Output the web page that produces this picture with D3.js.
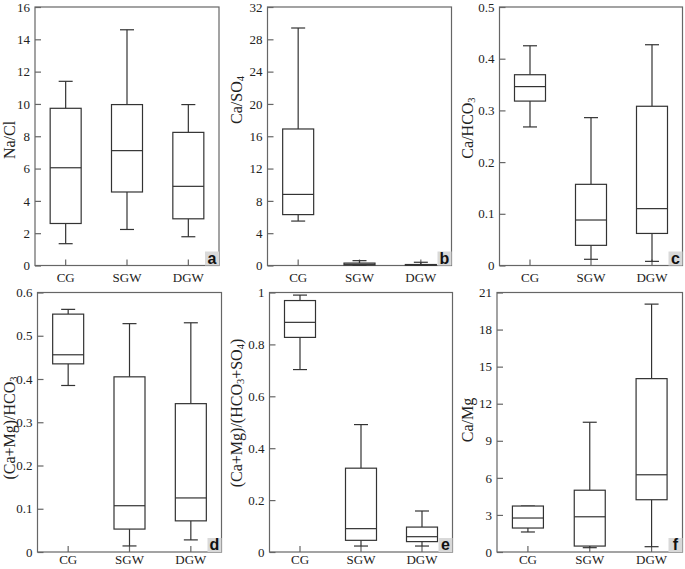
<!DOCTYPE html>
<html><head><meta charset="utf-8">
<script src="https://cdn.jsdelivr.net/npm/d3@7/dist/d3.min.js"></script>
<style>body{margin:0;background:#fff}</style>
</head><body><svg id="c" width="685" height="569"></svg>
<script>
const categories = ["CG", "SGW", "DGW"];
// five-number summaries per category: [min, q1, median, q3, max]
const naCl        = [[1.35, 2.6, 6.05, 9.73, 11.4], [2.23, 4.55, 7.11, 9.96, 14.59], [1.78, 2.89, 4.9, 8.24, 9.96]];
const caSO4       = [[5.5, 6.3, 8.8, 16.9, 29.4], [0.03, 0.06, 0.15, 0.3, 0.6], [0.01, 0.03, 0.06, 0.12, 0.4]];
const caHCO3      = [[0.268, 0.318, 0.346, 0.369, 0.425], [0.012, 0.039, 0.088, 0.157, 0.286], [0.008, 0.062, 0.110, 0.308, 0.427]];
const caMgHCO3    = [[0.385, 0.435, 0.456, 0.550, 0.561], [0.014, 0.053, 0.107, 0.405, 0.528], [0.028, 0.072, 0.125, 0.343, 0.530]];
const caMgHCO3SO4 = [[0.703, 0.827, 0.885, 0.969, 0.990], [0.023, 0.045, 0.090, 0.323, 0.491], [0.023, 0.040, 0.059, 0.096, 0.158]];
const caMg        = [[1.62, 1.94, 2.75, 3.72, 3.72], [0.35, 0.48, 2.85, 5.0, 10.5], [0.43, 4.23, 6.25, 14.03, 20.06]];

const ticksA = [0, 2, 4, 6, 8, 10, 12, 14, 16];
const ticksB = [0, 4, 8, 12, 16, 20, 24, 28, 32];
const ticksC = [0, 0.1, 0.2, 0.3, 0.4, 0.5];
const ticksD = [0, 0.1, 0.2, 0.3, 0.4, 0.5, 0.6];
const ticksE = [0, 0.2, 0.4, 0.6, 0.8, 1];
const ticksF = [0, 3, 6, 9, 12, 15, 18, 21];

const titleA = [["Na/Cl", 0]];
const titleB = [["Ca/SO", 0], ["4", 1]];
const titleC = [["Ca/HCO", 0], ["3", 1]];
const titleD = [["(Ca+Mg)/HCO", 0], ["3", 1]];
const titleE = [["(Ca+Mg)/(HCO", 0], ["3", 1], ["+SO", 0], ["4", 1], [")", 0]];
const titleF = [["Ca/Mg", 0]];

const letters = ["a", "b", "c", "d", "e", "f"];

const panels = [
  {data: naCl, ticks: ticksA, title: titleA, x0: 35, x1: 219, y0: 7, y1: 265.5, tx: 11, ty: 140, pad: 7},
  {data: caSO4, ticks: ticksB, title: titleB, x0: 267.5, x1: 451.5, y0: 7, y1: 265.5, tx: 238, ty: 100, pad: 7},
  {data: caHCO3, ticks: ticksC, title: titleC, x0: 499.5, x1: 682.5, y0: 7, y1: 265.5, tx: 469, ty: 128, pad: 7},
  {data: caMgHCO3, ticks: ticksD, title: titleD, x0: 37.5, x1: 221.5, y0: 292.5, y1: 552, tx: 11, ty: 428, pad: 3},
  {data: caMgHCO3SO4, ticks: ticksE, title: titleE, x0: 269.5, x1: 452.5, y0: 292.5, y1: 552, tx: 238, ty: 413, pad: 3},
  {data: caMg, ticks: ticksF, title: titleF, x0: 497, x1: 682.5, y0: 292.5, y1: 552, tx: 469, ty: 420, pad: 3}
];

const svg = d3.select("#c");
const serif = "'Liberation Serif', 'Times New Roman', serif";
const fmt = v => String(+v.toFixed(2));
const boxW = 31, capW = 14;
const lineCol = "#333", frameCol = "#666";

panels.forEach((p, i) => {
  const g = svg.append("g");
  const y = d3.scaleLinear().domain([0, d3.max(p.ticks)]).range([p.y1, p.y0]);
  const x = d3.scaleBand().domain(categories).range([p.x0, p.x1]);

  // frame
  g.append("rect").attr("x", p.x0).attr("y", p.y0)
    .attr("width", p.x1 - p.x0).attr("height", p.y1 - p.y0)
    .attr("fill", "none").attr("stroke", frameCol).attr("stroke-width", 1.2);

  // y axis
  const ya = g.append("g").attr("transform", `translate(${p.x0},0)`)
    .call(d3.axisLeft(y).tickValues(p.ticks).tickFormat(fmt).tickSizeInner(-6).tickSizeOuter(0).tickPadding(5));
  ya.select(".domain").remove();
  ya.selectAll("line").attr("stroke", frameCol).attr("stroke-width", 1.2);
  ya.selectAll("text").attr("font-family", serif).attr("font-size", 13).attr("fill", "#222");

  // x axis
  const xa = g.append("g").attr("transform", `translate(0,${p.y1})`)
    .call(d3.axisBottom(x).tickSizeInner(-6).tickSizeOuter(0).tickPadding(p.pad));
  xa.select(".domain").remove();
  xa.selectAll("line").attr("stroke", frameCol).attr("stroke-width", 1.2);
  xa.selectAll("text").attr("font-family", serif).attr("font-size", 13).attr("fill", "#222");

  // boxes
  categories.forEach((c, j) => {
    const [mn, q1, md, q3, mx] = p.data[j];
    const cx = x(c) + x.bandwidth() / 2;
    const bg = g.append("g").attr("stroke", lineCol).attr("stroke-width", 1.2).attr("fill", "none");
    bg.append("line").attr("x1", cx).attr("x2", cx).attr("y1", y(mx)).attr("y2", y(q3));
    bg.append("line").attr("x1", cx).attr("x2", cx).attr("y1", y(q1)).attr("y2", y(mn));
    bg.append("line").attr("x1", cx - capW / 2).attr("x2", cx + capW / 2).attr("y1", y(mx)).attr("y2", y(mx));
    bg.append("line").attr("x1", cx - capW / 2).attr("x2", cx + capW / 2).attr("y1", y(mn)).attr("y2", y(mn));
    bg.append("rect").attr("x", cx - boxW / 2).attr("width", boxW)
      .attr("y", y(q3)).attr("height", Math.max(0.5, y(q1) - y(q3))).attr("fill", "#fff");
    bg.append("line").attr("x1", cx - boxW / 2).attr("x2", cx + boxW / 2).attr("y1", y(md)).attr("y2", y(md));
  });

  // y title
  const t = g.append("text").attr("transform", `translate(${p.tx},${p.ty}) rotate(-90)`)
    .attr("text-anchor", "middle").attr("dominant-baseline", "middle")
    .attr("font-family", serif).attr("font-size", 16).attr("fill", "#222");
  let shifted = 0;
  p.title.forEach(([s, sub]) => {
    const dy = sub ? 4 - shifted : -shifted;
    shifted += dy;
    t.append("tspan").attr("dy", dy).attr("font-size", sub ? 10.5 : 16).text(s);
  });

  // letter badge
  g.append("rect").attr("x", p.x1 - 14).attr("y", p.y1 - 14).attr("width", 14).attr("height", 14)
    .attr("fill", "#d9d9d9");
  g.append("text").attr("x", p.x1 - 7).attr("y", p.y1 - 2).attr("text-anchor", "middle")
    .attr("font-family", "'Liberation Sans', Arial, sans-serif").attr("font-weight", "bold")
    .attr("font-size", 16).attr("fill", "#111").text(letters[i]);
});
</script></body></html>
